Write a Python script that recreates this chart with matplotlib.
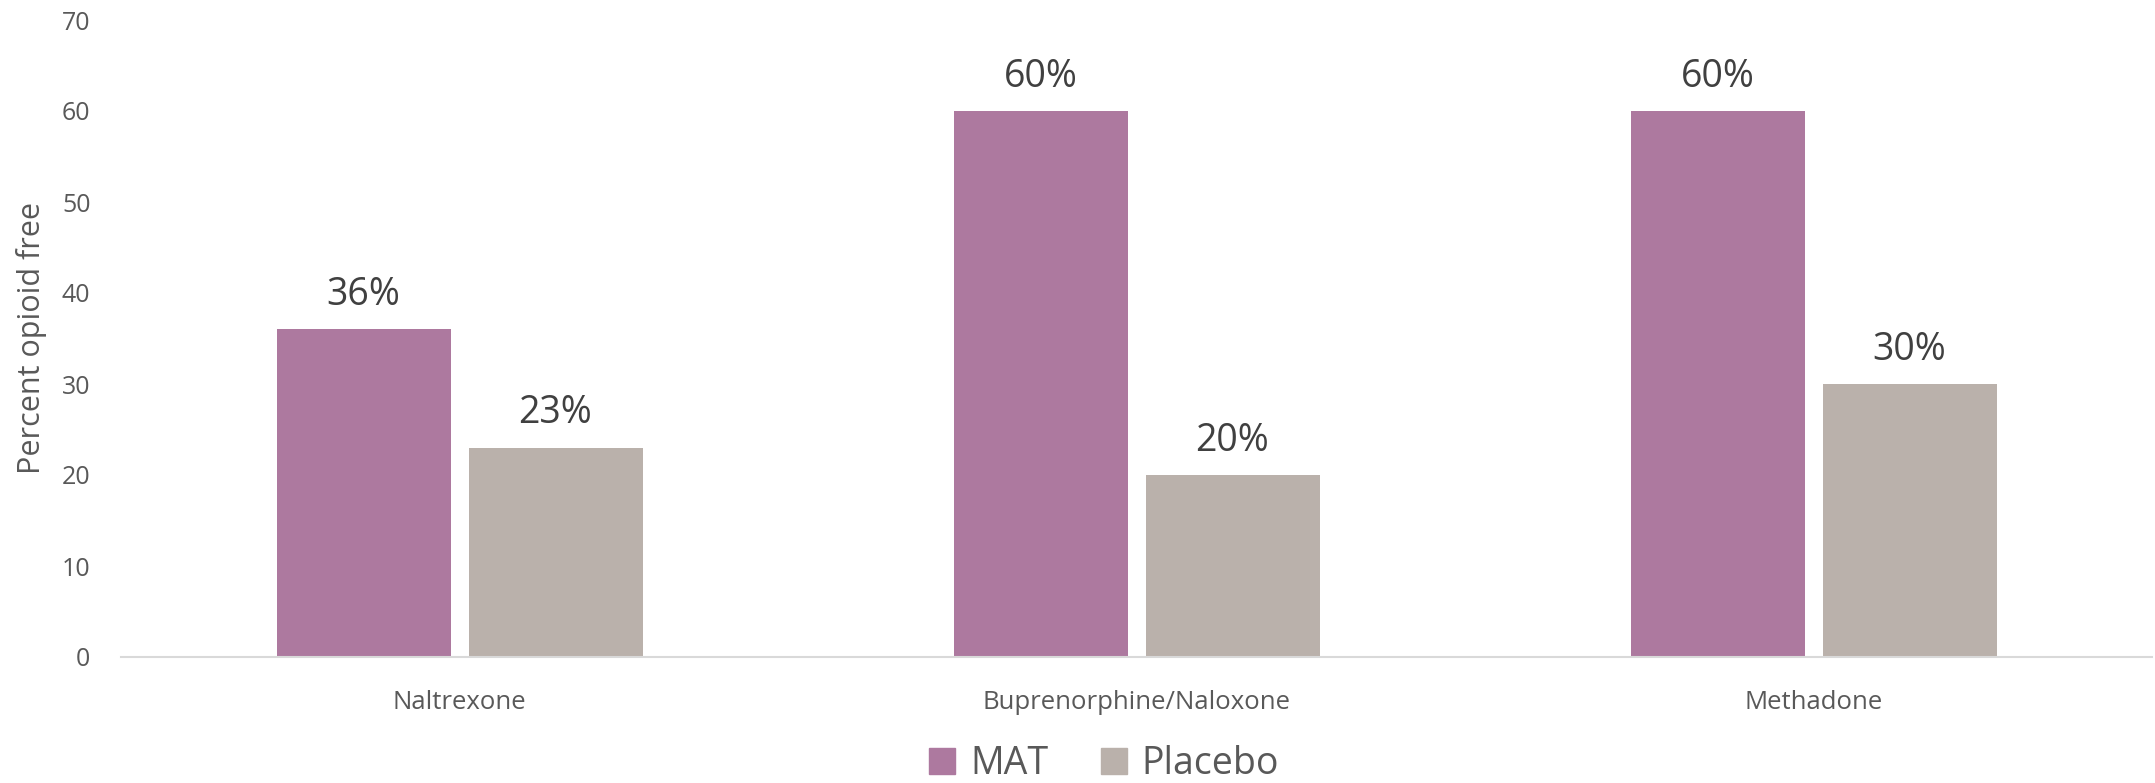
import matplotlib
matplotlib.use("Agg")
import matplotlib.pyplot as plt
import numpy as np
from matplotlib.patches import Patch

categories = ["Naltrexone", "Buprenorphine/Naloxone", "Methadone"]
mat_values = [36, 60, 60]
placebo_values = [23, 20, 30]
series_names = ["MAT", "Placebo"]
yticks = [0, 10, 20, 30, 40, 50, 60, 70]

c_mat = "#AD799F"
c_pla = "#BAB1AB"

plt.rcParams['font.family'] = ['Open Sans', 'DejaVu Sans']

fig = plt.figure(figsize=(21.55, 7.83), dpi=100)
ax = fig.add_axes([121/2155, 126/783, (2152-121)/2155, (763-126)/783])

x = np.arange(len(categories))
w = 174/677
gap = 18/677
off = (w + gap) / 2
b1 = ax.bar(x - off, mat_values, w, color=c_mat, label=series_names[0])
b2 = ax.bar(x + off, placebo_values, w, color=c_pla, label=series_names[1])

for bars, vals in ((b1, mat_values), (b2, placebo_values)):
    for r, v in zip(bars, vals):
        ax.annotate(f"{v}%", (r.get_x() + r.get_width()/2, v), xytext=(0, 11),
                    textcoords="offset points", ha="center", va="bottom",
                    fontsize=27, color="#404040")

ax.set_xlim(-0.5, 2.5)
ax.set_ylim(0, 70)
ax.set_yticks(yticks)
ax.set_xticks(x)
ax.set_xticklabels(categories)
ax.tick_params(axis="y", length=0, pad=22, labelsize=18, labelcolor="#595959")
ax.tick_params(axis="x", length=0, pad=24, labelsize=18.5, labelcolor="#595959")
for s in ["top", "right", "left"]:
    ax.spines[s].set_visible(False)
ax.spines["bottom"].set_color("#D9D9D9")
ax.spines["bottom"].set_linewidth(1.5)
ax.set_ylabel("Percent opioid free", fontsize=22, color="#595959")
ax.yaxis.set_label_coords((47-121)/2031, 0.5)

handles = [Patch(color=c_mat, label=series_names[0]), Patch(color=c_pla, label=series_names[1])]
fig.legend(handles=handles, loc="center", bbox_to_anchor=(1104/2155, 1 - 764/783),
           ncol=2, frameon=False, fontsize=27, handlelength=0.7, handleheight=0.7,
           handletextpad=0.4, columnspacing=1.4, labelcolor="#595959",
           borderpad=0.1)

fig.savefig("out.png", dpi=100)
